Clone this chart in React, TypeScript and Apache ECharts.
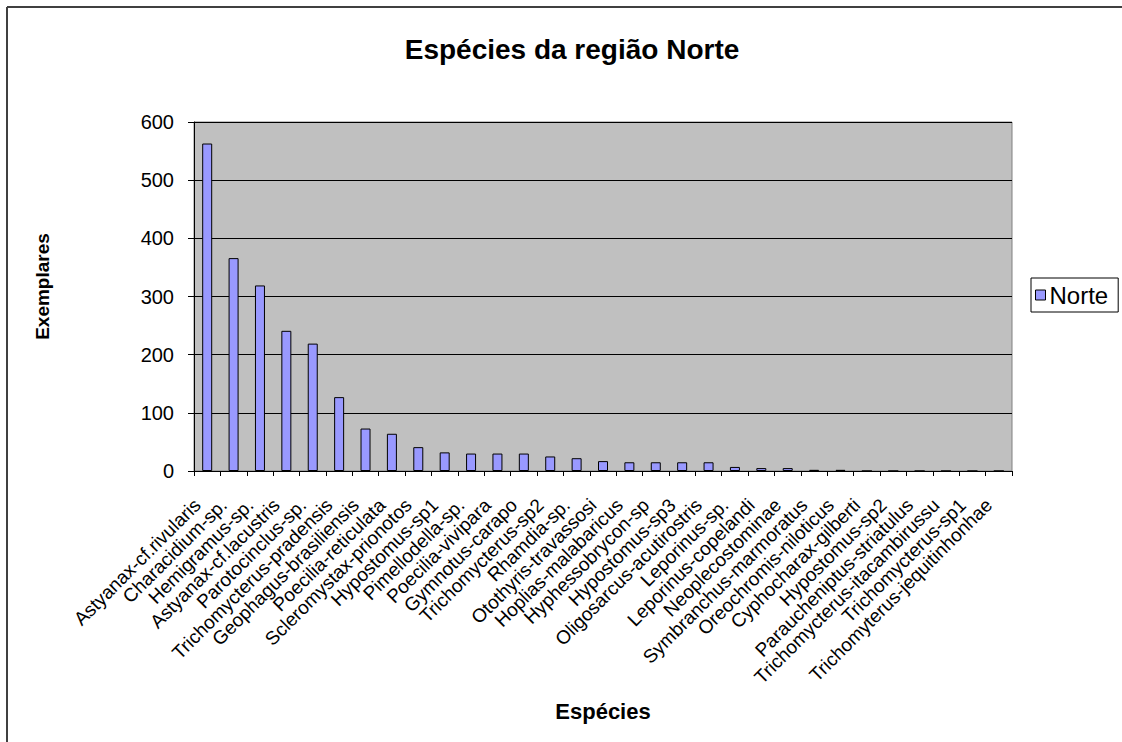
import React, { useEffect, useRef } from "react";
import * as echarts from "echarts";

const categories: string[] = [
  "Astyanax-cf.rivularis",
  "Characidium-sp.",
  "Hemigramus-sp.",
  "Astyanax-cf.lacustris",
  "Parotocinclus-sp.",
  "Trichomycterus-pradensis",
  "Geophagus-brasiliensis",
  "Poecilia-reticulata",
  "Scleromystax-prionotos",
  "Hypostomus-sp1",
  "Pimellodella-sp.",
  "Poecilia-vivipara",
  "Gymnotus-carapo",
  "Trichomycterus-sp2",
  "Rhamdia-sp.",
  "Otothyris-travassosi",
  "Hoplias-malabaricus",
  "Hyphessobrycon-sp",
  "Hypostomus-sp3",
  "Oligosarcus-acutirostris",
  "Leporinus-sp.",
  "Leporinus-copelandi",
  "Neoplecostominae",
  "Symbranchus-marmoratus",
  "Oreochromis-niloticus",
  "Cyphocharax-gilberti",
  "Hypostomus-sp2",
  "Paraucheniptus-striatulus",
  "Trichomycterus-itacambirussu",
  "Trichomycterus-sp1",
  "Trichomyterus-jequitinhonhae",
];

const norteValues: number[] = [
  563, 366, 319, 241, 219, 127, 73, 64, 41, 32, 30, 30, 30, 25, 22, 17, 15, 15,
  15, 15, 7, 5, 5, 2, 2, 0, 0, 0, 0, 0, 0,
];

const yTicks = { min: 0, max: 600, interval: 100 };

const FONT = "Arial, 'Liberation Sans', sans-serif";

export default function App() {
  const ref = useRef<HTMLDivElement>(null);

  useEffect(() => {
    if (!ref.current) return;
    const chart = echarts.init(ref.current, undefined, { renderer: "svg" });
    chart.setOption({
      animation: false,
      backgroundColor: "#ffffff",
      textStyle: { fontFamily: FONT },
      title: {
        text: "Espécies da região Norte",
        left: 567,
        top: 30,
        textAlign: "center",
        textStyle: { fontFamily: FONT, fontSize: 28, fontWeight: "bold", color: "#000" },
      },
      legend: {
        orient: "vertical",
        left: 1031,
        top: 278,
        padding: [5, 10, 5, 4],
        backgroundColor: "#ffffff",
        borderColor: "#000000",
        borderWidth: 1,
        borderRadius: 0,
        icon: "rect",
        itemWidth: 10,
        itemHeight: 10,
        itemGap: 4,
        itemStyle: { borderColor: "#000", borderWidth: 1 },
        textStyle: { fontFamily: FONT, fontSize: 24, color: "#000", padding: [0, 0, 0, -1] },
        data: ["Norte"],
      },
      grid: {
        left: 194,
        top: 122,
        width: 818,
        height: 349,
        show: true,
        backgroundColor: "#C0C0C0",
        borderColor: "#808080",
        borderWidth: 1,
        containLabel: false,
      },
      xAxis: {
        type: "category",
        data: categories,
        name: "Espécies",
        nameLocation: "middle",
        nameGap: 229,
        nameTextStyle: {
          fontFamily: FONT,
          fontSize: 22,
          fontWeight: "bold",
          color: "#000",
        },
        axisLine: { show: true, lineStyle: { color: "#000", width: 1 } },
        axisTick: { show: true, alignWithLabel: false, length: 5, lineStyle: { color: "#000" } },
        axisLabel: {
          interval: 0,
          rotate: 45,
          margin: 21,
          padding: [0, 14, 0, 0],
          fontFamily: FONT,
          fontSize: 19,
          color: "#000",
        },
        splitLine: { show: false },
      },
      yAxis: {
        type: "value",
        min: yTicks.min,
        max: yTicks.max,
        interval: yTicks.interval,
        name: "Exemplares",
        nameLocation: "middle",
        nameRotate: 90,
        nameGap: 142,
        nameTextStyle: {
          fontFamily: FONT,
          fontSize: 19,
          fontWeight: "bold",
          color: "#000",
          padding: [0, 0, 0, 20],
        },
        axisLine: { show: true, lineStyle: { color: "#000", width: 1 } },
        axisTick: { show: true, inside: false, length: 6, lineStyle: { color: "#000" } },
        axisLabel: { fontFamily: FONT, fontSize: 20, color: "#000", margin: 20 },
        splitLine: { show: true, lineStyle: { color: "#000", width: 1 } },
      },
      series: [
        {
          name: "Norte",
          type: "bar",
          data: norteValues,
          barWidth: 10,
          itemStyle: { color: "#9999FF", borderColor: "#000000", borderWidth: 1 },
        },
      ],
      graphic: [
        {
          type: "line",
          shape: { x1: 7, y1: 7, x2: 1122, y2: 7 },
          style: { stroke: "#404040", lineWidth: 2 },
        },
        {
          type: "line",
          shape: { x1: 7, y1: 7, x2: 7, y2: 742 },
          style: { stroke: "#404040", lineWidth: 2 },
        },
      ],
    });
    return () => chart.dispose();
  }, []);

  return (
    <div
      ref={ref}
      style={{ position: "fixed", left: 0, top: 0, width: 1122, height: 742 }}
    />
  );
}
